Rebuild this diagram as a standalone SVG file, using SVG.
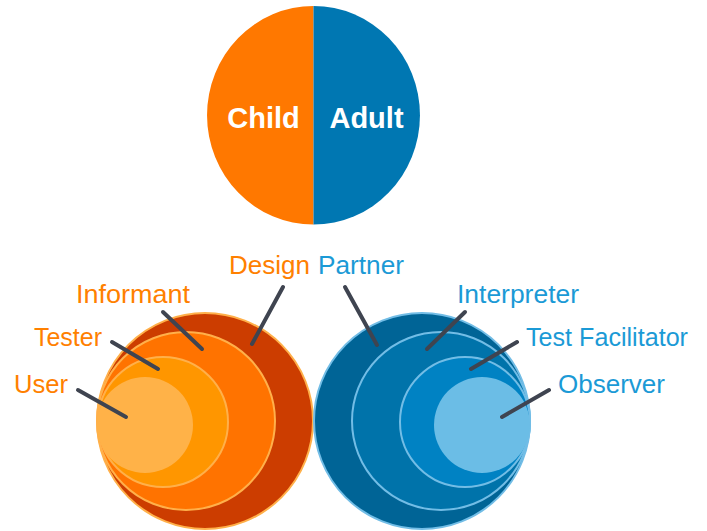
<svg xmlns="http://www.w3.org/2000/svg" width="707" height="531" viewBox="0 0 707 531">
  <style>
    .lbl { font-family: "Liberation Sans", Arial, sans-serif; font-size: 25px; }
    .child { fill: #ff8000; }
    .adult { fill: #1b9ad6; }
    .big { font-family: "Liberation Sans", Arial, sans-serif; font-size: 29px; font-weight: bold; fill: #ffffff; }
    .ring-c { stroke: #ffb04a; stroke-width: 2; }
    .ring-a { stroke: #72bde6; stroke-width: 2; }
    .lead { stroke: #3f4450; stroke-width: 4; stroke-linecap: round; fill: none; }
  </style>

  <!-- top split circle -->
  <g id="split">
    <path d="M313.5,6 A106.5,109.3 0 0 0 313.5,224.6 Z" fill="#ff7800"/>
    <path d="M313.5,6 A106.5,109.3 0 0 1 313.5,224.6 Z" fill="#0077b2"/>
    <text class="big" x="263.5" y="128" text-anchor="middle">Child</text>
    <text class="big" x="366.5" y="128" text-anchor="middle">Adult</text>
  </g>

  <!-- child roles: nested circles tangent on the left -->
  <g id="design-partner-child">
    <circle cx="205" cy="421" r="108" fill="#cc3d00" class="ring-c"/>
  </g>
  <g id="informant">
    <circle cx="186" cy="421" r="89" fill="#ff7300" class="ring-c"/>
  </g>
  <g id="tester">
    <circle cx="163" cy="422" r="65" fill="#ff9600" class="ring-c"/>
  </g>
  <g id="user">
    <circle cx="145" cy="425" r="48" fill="#ffb248"/>
  </g>

  <!-- adult roles: nested circles tangent on the right -->
  <g id="design-partner-adult">
    <circle cx="422" cy="421" r="108" fill="#006496" class="ring-a"/>
  </g>
  <g id="interpreter">
    <circle cx="441" cy="421" r="89" fill="#0073aa" class="ring-a"/>
  </g>
  <g id="test-facilitator">
    <circle cx="465" cy="422" r="65" fill="#0082c3" class="ring-a"/>
  </g>
  <g id="observer">
    <circle cx="482" cy="425" r="48" fill="#6bbde6"/>
  </g>

  <!-- leader lines -->
  <g id="connectors" class="lead">
    <line x1="78" y1="390" x2="126" y2="417"/>
    <line x1="112" y1="342" x2="158" y2="369"/>
    <line x1="163" y1="312" x2="202" y2="349"/>
    <line x1="283" y1="287" x2="252" y2="344"/>
    <line x1="345" y1="287" x2="377" y2="345"/>
    <line x1="465" y1="312" x2="427" y2="349"/>
    <line x1="517" y1="342" x2="471" y2="369"/>
    <line x1="549" y1="390" x2="502" y2="417"/>
  </g>

  <!-- labels -->
  <g id="labels" class="lbl">
    <text class="child" x="229" y="274" textLength="81" lengthAdjust="spacingAndGlyphs">Design</text>
    <text class="adult" x="318" y="274" textLength="86" lengthAdjust="spacingAndGlyphs">Partner</text>
    <text class="child" x="76" y="303" textLength="114" lengthAdjust="spacingAndGlyphs">Informant</text>
    <text class="child" x="34" y="346" textLength="68" lengthAdjust="spacingAndGlyphs">Tester</text>
    <text class="child" x="14" y="393" textLength="54" lengthAdjust="spacingAndGlyphs">User</text>
    <text class="adult" x="457" y="303" textLength="122" lengthAdjust="spacingAndGlyphs">Interpreter</text>
    <text class="adult" x="526" y="346" textLength="162" lengthAdjust="spacingAndGlyphs">Test Facilitator</text>
    <text class="adult" x="558" y="393" textLength="107" lengthAdjust="spacingAndGlyphs">Observer</text>
  </g>
</svg>
